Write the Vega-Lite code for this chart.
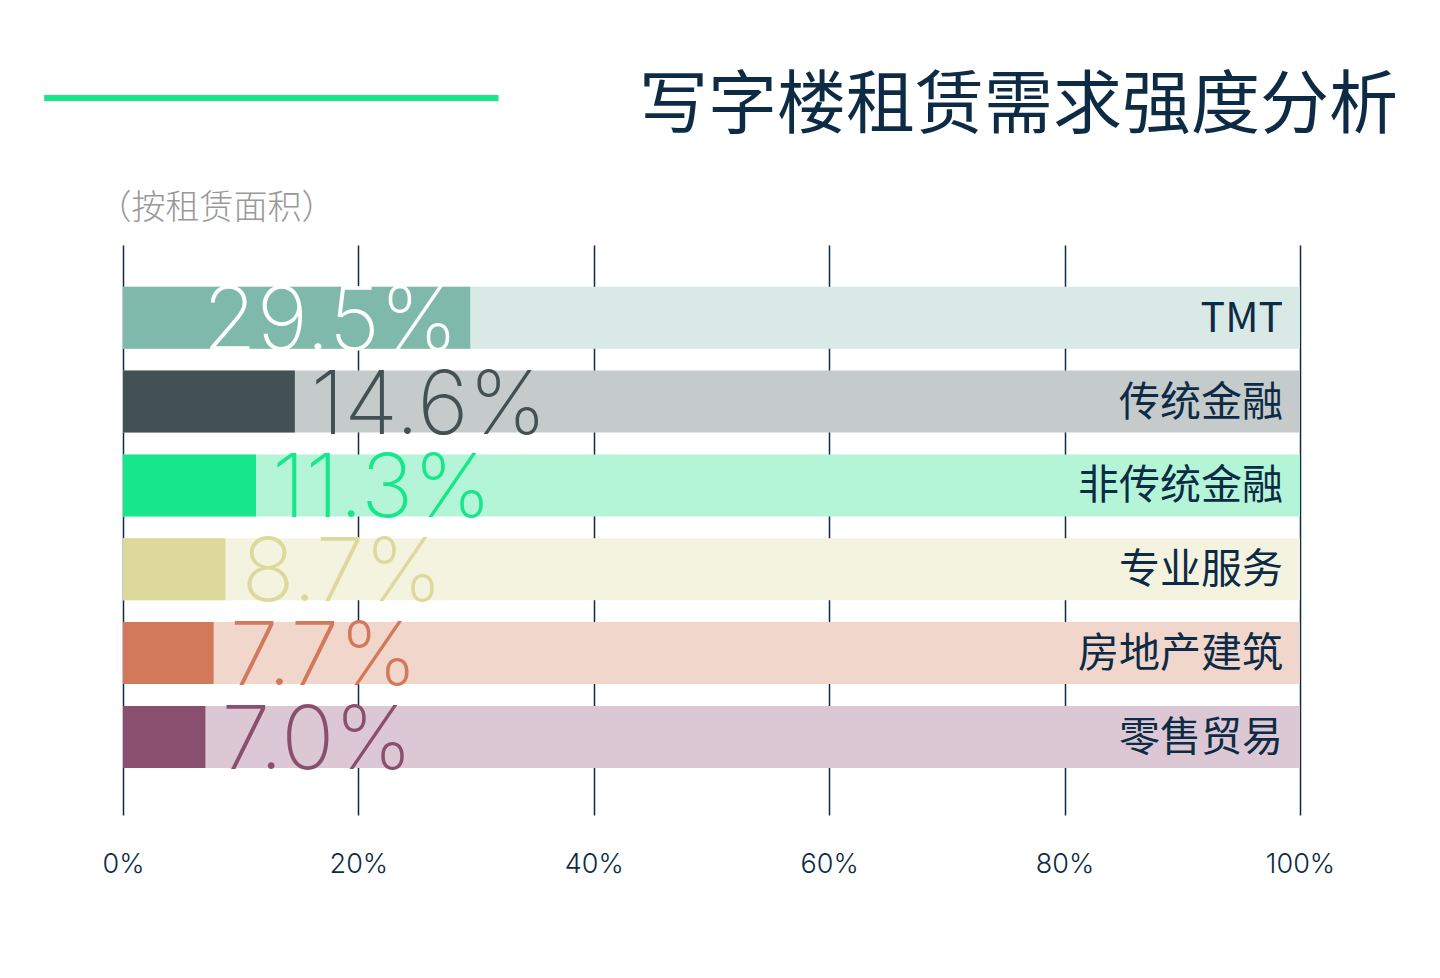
{
  "$schema": "https://vega.github.io/schema/vega-lite/v6.json",
  "width": 1177,
  "height": 570,
  "autosize": {"type": "none"},
  "padding": {"left": 123, "top": 245, "right": 140, "bottom": 163},
  "background": "white",
  "config": {"view": {"stroke": null}},
  "title": {
    "text": "写字楼租赁需求强度分析",
    "anchor": "end",
    "frame": "group",
    "font": "Noto Sans CJK SC",
    "fontSize": 69,
    "fontWeight": 400,
    "color": "#0d2b45",
    "dx": 98,
    "offset": -47,
    "baseline": "top"
  },
  "data": {
    "values": [
      {"category": "TMT", "value": 0.295},
      {"category": "传统金融", "value": 0.146},
      {"category": "非传统金融", "value": 0.113},
      {"category": "专业服务", "value": 0.087},
      {"category": "房地产建筑", "value": 0.077},
      {"category": "零售贸易", "value": 0.070}
    ]
  },
  "layer": [
    {
      "mark": {"type": "bar"},
      "encoding": {
        "y": {
          "field": "category", "type": "nominal",
          "scale": {"domain": ["TMT", "传统金融", "非传统金融", "专业服务", "房地产建筑", "零售贸易"], "paddingInner": 0.26, "paddingOuter": 0.53, "align": 0.47},
          "axis": {"title": "（按租赁面积）", "labels": false, "ticks": false, "domain": false, "grid": false, "titleAngle": 0, "titleAlign": "left", "titleBaseline": "alphabetic", "titleX": -26, "titleY": -27, "titleFont": "Noto Sans CJK SC", "titleFontSize": 34, "titleFontWeight": 300, "titleColor": "#999999"}
        },
        "x": {
          "datum": 1, "type": "quantitative", "title": null,
          "scale": {"domain": [0, 1], "nice": false},
          "axis": {"grid": true, "gridColor": "#0d2b45", "gridWidth": 1.5, "domain": false, "ticks": false, "values": [0, 0.2, 0.4, 0.6, 0.8, 1], "format": ".0%", "labelFont": "Inter", "labelFontSize": 27, "labelFontWeight": 300, "labelColor": "#0d2b45", "labelPadding": 36, "labelFlush": false, "labelOverlap": false, "labelAlign": "center"}
        },
        "x2": {"datum": 0},
        "color": {
          "field": "category", "type": "nominal", "legend": null,
          "scale": {"domain": ["TMT", "传统金融", "非传统金融", "专业服务", "房地产建筑", "零售贸易"], "range": ["#d9e9e5", "#c5cbcb", "#b4f5d8", "#f4f3e0", "#f1d6cc", "#dcc8d4"]}
        }
      }
    },
    {
      "mark": {"type": "bar"},
      "encoding": {
        "y": {"field": "category", "type": "nominal"},
        "x": {"field": "value", "type": "quantitative", "title": null},
        "color": {
          "field": "category", "type": "nominal", "legend": null,
          "scale": {"domain": ["TMT", "传统金融", "非传统金融", "专业服务", "房地产建筑", "零售贸易"], "range": ["#7fb9ab", "#435155", "#17e68b", "#dcd99b", "#d2795b", "#8a4f6f"]}
        }
      }
    },
    {
      "transform": [{"filter": "datum.category !== 'TMT'"}],
      "mark": {"type": "text", "align": "left", "baseline": "alphabetic", "dx": 16, "dy": 32, "font": "Inter", "fontSize": 88, "fontWeight": 200},
      "encoding": {
        "y": {"field": "category", "type": "nominal"},
        "x": {"field": "value", "type": "quantitative", "title": null},
        "text": {"field": "value", "format": ".1%"},
        "color": {
          "field": "category", "type": "nominal", "legend": null,
          "scale": {"domain": ["TMT", "传统金融", "非传统金融", "专业服务", "房地产建筑", "零售贸易"], "range": ["#7fb9ab", "#435155", "#17e68b", "#dcd99b", "#d2795b", "#8a4f6f"]}
        }
      }
    },
    {
      "transform": [{"filter": "datum.category === 'TMT'"}],
      "mark": {"type": "text", "align": "right", "baseline": "alphabetic", "dx": -12, "dy": 32, "font": "Inter", "fontSize": 88, "fontWeight": 200, "color": "#ffffff"},
      "encoding": {
        "y": {"field": "category", "type": "nominal"},
        "x": {"field": "value", "type": "quantitative", "title": null},
        "text": {"field": "value", "format": ".1%"}
      }
    },
    {
      "mark": {"type": "text", "align": "right", "baseline": "middle", "dx": -17, "dy": 2, "font": "Noto Sans CJK SC", "fontSize": 41, "fontWeight": 400, "color": "#0d2b45"},
      "encoding": {
        "y": {"field": "category", "type": "nominal"},
        "x": {"datum": 1, "type": "quantitative", "title": null},
        "text": {"field": "category"}
      }
    },
    {
      "data": {"values": [{"k": 1}]},
      "mark": {"type": "rule", "color": "#17e68b", "strokeWidth": 6},
      "encoding": {
        "x": {"datum": -0.067, "type": "quantitative", "title": null},
        "x2": {"datum": 0.319},
        "y": {"value": -147}
      }
    }
  ],
  "resolve": {"scale": {"color": "independent"}}
}
